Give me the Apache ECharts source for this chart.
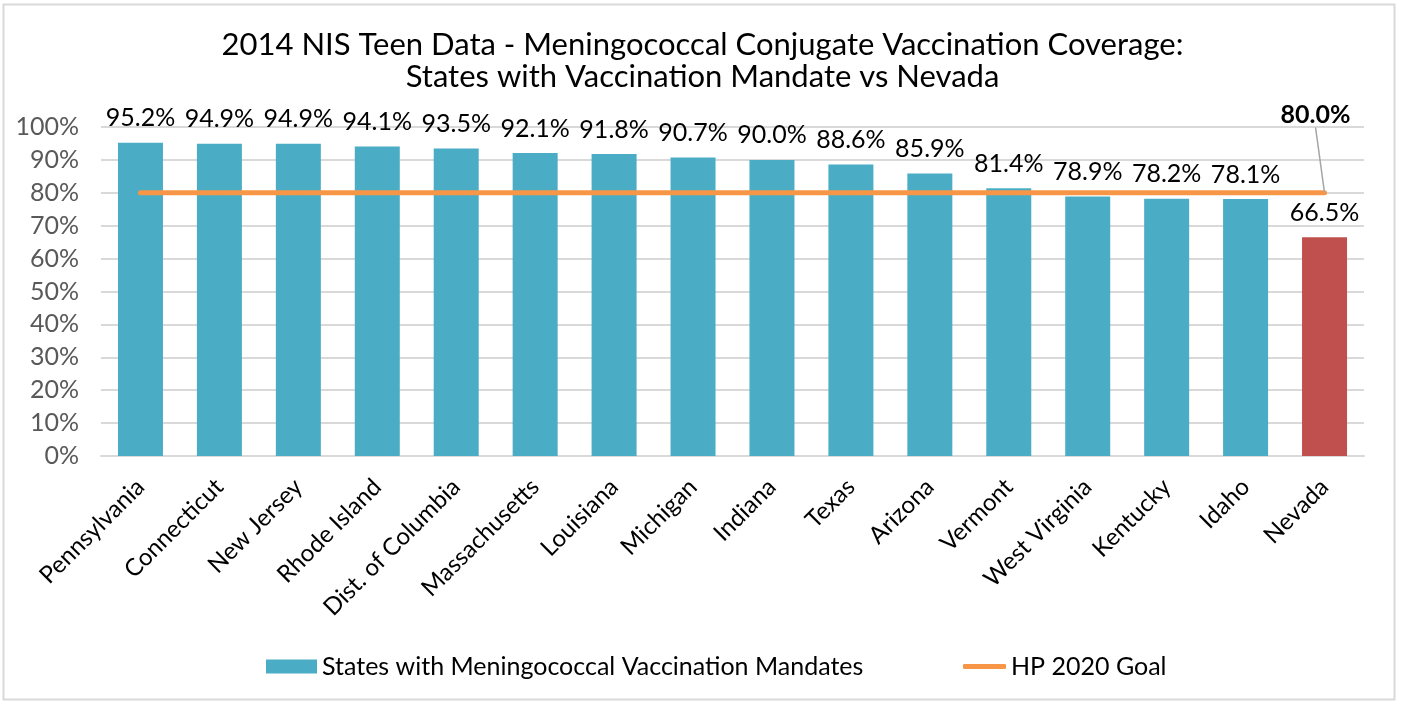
<!DOCTYPE html>
<html>
<head>
<meta charset="utf-8">
<script src="https://cdn.jsdelivr.net/npm/echarts@6/dist/echarts.min.js"></script>
<style>
html,body{margin:0;padding:0;background:#fff;}
#chart{width:1405px;height:704px;}
</style>
</head>
<body>
<div id="chart"></div>
<script>
const categories = ['Pennsylvania','Connecticut','New Jersey','Rhode Island','Dist. of Columbia','Massachusetts','Louisiana','Michigan','Indiana','Texas','Arizona','Vermont','West Virginia','Kentucky','Idaho','Nevada'];
const coverage = [95.2, 94.9, 94.9, 94.1, 93.5, 92.1, 91.8, 90.7, 90.0, 88.6, 85.9, 81.4, 78.9, 78.2, 78.1, 66.5];
const goal = [80, 80, 80, 80, 80, 80, 80, 80, 80, 80, 80, 80, 80, 80, 80, 80];
const yTicks = [0, 10, 20, 30, 40, 50, 60, 70, 80, 90, 100];
const highlightCategory = 'Nevada';

const FONT = 'Lato';
const barData = coverage.map((v, i) => categories[i] === highlightCategory
  ? { value: v, itemStyle: { color: '#C0504D' } }
  : v);
const lineData = goal.map((v, i) => i === goal.length - 1
  ? { value: v, label: { show: true } }
  : v);

const chart = echarts.init(document.getElementById('chart'));
chart.setOption({
  animation: false,
  textStyle: { fontFamily: FONT },
  title: {
    text: '2014 NIS Teen Data - Meningococcal Conjugate Vaccination Coverage:\nStates with Vaccination Mandate vs Nevada',
    left: 'center',
    top: 24,
    textStyle: { fontFamily: FONT, fontSize: 31, fontWeight: 'normal', color: '#000', lineHeight: 32 }
  },
  graphic: [{
    type: 'rect',
    shape: { x: 3.5, y: 4.5, width: 1391, height: 695 },
    style: { fill: 'none', stroke: '#d9d9d9', lineWidth: 2 },
    silent: true
  }],
  legend: [{
    data: [{ name: 'States with Meningococcal Vaccination Mandates', icon: 'rect' }],
    left: 261, top: 649,
    itemWidth: 51, itemHeight: 14, itemGap: 6,
    textStyle: { fontFamily: FONT, fontSize: 25, color: '#000' }
  }, {
    data: [{ name: 'HP 2020 Goal', icon: 'roundRect' }],
    left: 958, top: 649,
    itemWidth: 43, itemHeight: 5,
    itemStyle: { color: '#F79646' },
    textStyle: { fontFamily: FONT, fontSize: 25, color: '#000' }
  }],
  grid: { left: 101, right: 41, top: 127, bottom: 248, containLabel: false },
  xAxis: {
    type: 'category',
    data: categories,
    boundaryGap: true,
    axisLine: { lineStyle: { color: '#d9d9d9', width: 2 } },
    axisTick: { show: false },
    axisLabel: { rotate: 45, interval: 0, margin: 27, fontFamily: FONT, fontSize: 24, color: '#000' }
  },
  yAxis: {
    type: 'value',
    min: yTicks[0], max: yTicks[yTicks.length - 1], interval: yTicks[1] - yTicks[0],
    axisLine: { show: false },
    axisTick: { show: false },
    splitLine: { lineStyle: { color: '#d9d9d9', width: 2 } },
    axisLabel: { formatter: '{value}%', margin: 22, fontFamily: FONT, fontSize: 25, color: '#595959' }
  },
  series: [{
    name: 'States with Meningococcal Vaccination Mandates',
    type: 'bar',
    data: barData,
    barWidth: '57%',
    itemStyle: { color: '#4BACC6' },
    label: {
      show: true, position: 'top', distance: 12,
      formatter: p => p.value.toFixed(1) + '%',
      fontFamily: FONT, fontSize: 25, color: '#000'
    },
    z: 2
  }, {
    name: 'HP 2020 Goal',
    type: 'line',
    data: lineData,
    symbol: 'circle',
    symbolSize: 1,
    showSymbol: true,
    itemStyle: { color: '#F79646' },
    lineStyle: { color: '#F79646', width: 5, cap: 'round' },
    label: {
      show: false, position: 'top', distance: 5,
      formatter: p => p.value.toFixed(1) + '%',
      fontFamily: FONT, fontSize: 25, fontWeight: 'bold', color: '#000'
    },
    labelLine: { show: true, lineStyle: { color: '#a6a6a6', width: 1.5 } },
    labelLayout: p => p.dataIndex === goal.length - 1 ? { dx: -9, dy: -60 } : {},
    z: 3
  }]
});
</script>
</body>
</html>
